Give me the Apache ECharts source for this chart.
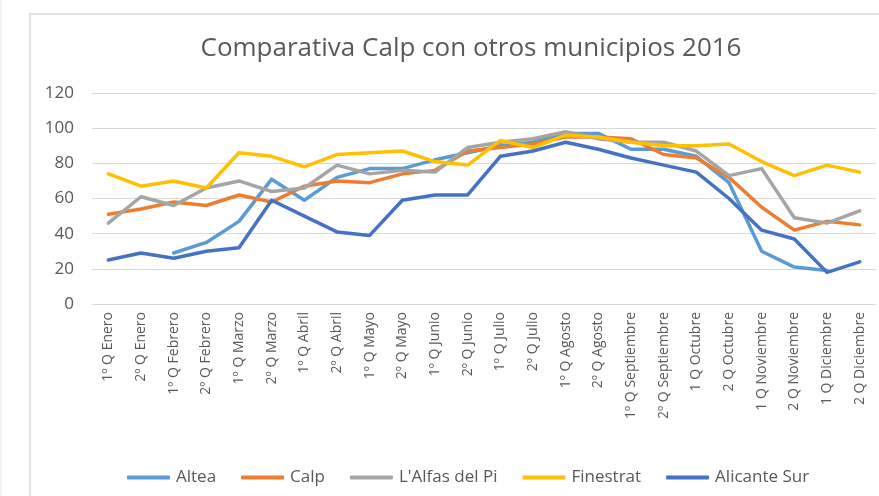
<!DOCTYPE html>
<html>
<head>
<meta charset="utf-8">
<script src="https://cdn.jsdelivr.net/npm/echarts@6/dist/echarts.min.js"></script>
<style>
  html, body { margin: 0; padding: 0; background: #fff; }
  #chart { width: 879px; height: 496px; }
</style>
</head>
<body>
<div id="chart"></div>
<script>
const categories = [
  "1º Q Enero", "2º Q Enero", "1º Q Febrero", "2º Q Febrero", "1º Q Marzo", "2º Q Marzo",
  "1º Q Abril", "2º Q Abril", "1º Q Mayo", "2º Q Mayo", "1º Q Junio", "2º Q Junio",
  "1º Q Julio", "2º Q Julio", "1º Q Agosto", "2º Q Agosto", "1º Q Septiembre", "2º Q Septiembre",
  "1 Q Octubre", "2 Q Octubre", "1 Q Noviembre", "2 Q Noviembre", "1 Q Diciembre", "2 Q Diciembre"
];

const altea = [null, null, 29, 35, 47, 71, 59, 72, 77, 77, 82, 86, 90, 92, 97, 97, 88, 88, 84, 69, 30, 21, 19, null];
const calp = [51, 54, 58, 56, 62, 58, 67, 70, 69, 74, 76, 87, 89, 91, 95, 95, 94, 85, 83, 72, 55, 42, 47, 45];
const alfas = [46, 61, 56, 66, 70, 64, 66, 79, 74, 76, 75, 89, 92, 94, 98, 94, 92, 92, 87, 73, 77, 49, 46, 53];
const finestrat = [74, 67, 70, 66, 86, 84, 78, 85, 86, 87, 81, 79, 93, 89, 96, 95, 92, 90, 90, 91, 81, 73, 79, 75];
const alicanteSur = [25, 29, 26, 30, 32, 59, 50, 41, 39, 59, 62, 62, 84, 87, 92, 88, 83, 79, 75, 60, 42, 37, 18, 24];

const seriesNames = ["Altea", "Calp", "L'Alfas del Pi", "Finestrat", "Alicante Sur"];
const seriesData = [altea, calp, alfas, finestrat, alicanteSur];
const colors = ["#5B9BD5", "#ED7D31", "#A5A5A5", "#FFC000", "#4472C4"];

const yTicks = { min: 0, max: 120, interval: 20 };

const font = "'Open Sans', sans-serif";
const textColor = "#595959";

const chart = echarts.init(document.getElementById("chart"));
chart.setOption({
  animation: false,
  color: colors,
  textStyle: { fontFamily: font },
  title: {
    text: "Comparativa Calp con otros municipios 2016",
    left: 466,
    top: 31,
    textAlign: "center",
    textStyle: { fontSize: 26, fontWeight: "normal", color: textColor, fontFamily: font }
  },
  legend: {
    bottom: 5,
    left: 122,
    itemWidth: 43,
    itemHeight: 4,
    itemGap: 25,
    icon: "roundRect",
    textStyle: { fontSize: 17, color: textColor, fontFamily: font, padding: [0, 0, 0, 1] },
    data: seriesNames
  },
  grid: { left: 92, right: 3, top: 93, bottom: 192 },
  xAxis: {
    type: "category",
    data: categories,
    boundaryGap: true,
    axisLine: { lineStyle: { color: "#d9d9d9" } },
    axisTick: { show: false },
    axisLabel: { rotate: 90, interval: 0, margin: 8, fontSize: 14, color: textColor, fontFamily: font }
  },
  yAxis: {
    type: "value",
    min: yTicks.min,
    max: yTicks.max,
    interval: yTicks.interval,
    axisLine: { show: false },
    axisTick: { show: false },
    axisLabel: { margin: 18, fontSize: 17, color: textColor, fontFamily: font },
    splitLine: { lineStyle: { color: "#d9d9d9" } }
  },
  graphic: [
    { type: "rect", shape: { x: 30, y: 14, width: 900, height: 500 }, style: { fill: "none", stroke: "#d9d9d9", lineWidth: 1.5 }, silent: true },
    { type: "line", shape: { x1: 1, y1: 0, x2: 1, y2: 496 }, style: { stroke: "#e6e6e6", lineWidth: 1 }, silent: true }
  ],
  series: seriesNames.map((name, i) => ({
    name: name,
    type: "line",
    data: seriesData[i],
    symbol: "none",
    connectNulls: false,
    lineStyle: { width: 3.5, cap: "round", join: "round" }
  }))
});
</script>
</body>
</html>
